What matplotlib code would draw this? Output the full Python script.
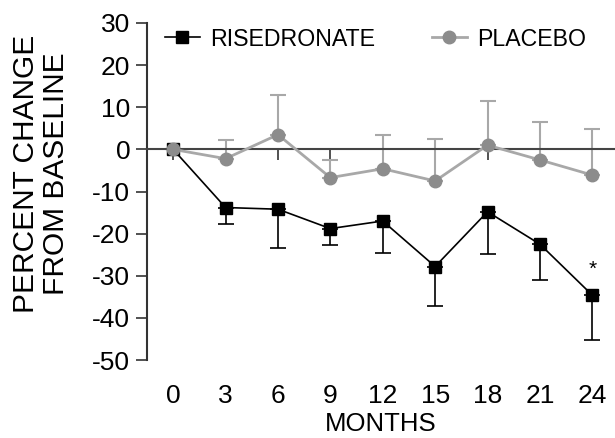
import matplotlib
matplotlib.use("Agg")
from matplotlib import pyplot as plt

plt.rcParams['font.family'] = ['Liberation Sans', 'DejaVu Sans']
plt.rcParams['axes.unicode_minus'] = False

months = [0, 3, 6, 9, 12, 15, 18, 21, 24]
rise_mean = [0, -13.8, -14.2, -18.8, -17.0, -27.8, -14.8, -22.5, -34.6]
rise_err = [0, 4.0, 9.1, 3.8, 7.5, 9.4, 10.1, 8.6, 10.7]
plac_mean = [0, -2.2, 3.5, -6.7, -4.6, -7.5, 1.0, -2.5, -6.1]
plac_err = [0, 4.4, 9.5, 4.1, 7.9, 9.9, 10.6, 9.1, 11.0]
yticks = [-50, -40, -30, -20, -10, 0, 10, 20, 30]

fig = plt.figure(figsize=(6.15, 4.38), dpi=100)
ax = fig.add_axes([0.239, 0.178, 0.761, 0.7695])

zeros = [0] * len(months)
# error bars only one side, like the original figure
ax.errorbar(months, rise_mean, yerr=[rise_err, zeros], fmt="none", ecolor="black",
            capsize=6, elinewidth=1.2, capthick=1.2, zorder=2)
ax.errorbar(months, plac_mean, yerr=[zeros, plac_err], fmt="none", ecolor="#a8a8a8",
            capsize=6, elinewidth=1.5, capthick=1.5, zorder=2)
ax.plot(months, rise_mean, color="black", lw=1.2, marker="s", ms=8,
        label="RISEDRONATE", zorder=3)
ax.plot(months, plac_mean, color="#a8a8a8", lw=2, marker="o", ms=9,
        mfc="#8c8c8c", mec="#8c8c8c", label="PLACEBO", zorder=4)
ax.text(24, -28.5, "*", ha="center", va="center", fontsize=15)

ax.set_xlim(-1.5, 25.3)
ax.set_ylim(-50, 30)
ax.spines["top"].set_visible(False)
ax.spines["right"].set_visible(False)
ax.spines["bottom"].set_position(("data", 0))
ax.spines["bottom"].set_color("#444444")
ax.spines["bottom"].set_linewidth(1.5)
ax.spines["left"].set_color("#333333")
ax.spines["left"].set_linewidth(1.5)
ax.set_xticks(months)
ax.tick_params(axis="x", direction="out", length=8, width=1.2, color="#333333",
               labelbottom=False)
ax.set_yticks(yticks)
ax.tick_params(axis="y", direction="out", length=8, width=1.2, color="#333333",
               labelsize=19, pad=4)

sec = ax.secondary_xaxis("bottom")
sec.set_xticks(months)
sec.spines["bottom"].set_visible(False)
sec.tick_params(length=0, labelsize=19, pad=17)
sec.set_xlabel("MONTHS", fontsize=18.5, labelpad=3)

ax.set_ylabel("PERCENT CHANGE\nFROM BASELINE", fontsize=21.5, linespacing=1.1)
ax.yaxis.set_label_coords(-0.165, 0.552)

leg = ax.legend(loc="center left", bbox_to_anchor=(165 / 615, 1 - 39 / 438),
                bbox_transform=fig.transFigure, ncol=2, frameon=False, fontsize=16.7,
                handlelength=1.5, handletextpad=0.45, columnspacing=2.45,
                borderpad=0, borderaxespad=0)

fig.savefig("out.png", dpi=100)
